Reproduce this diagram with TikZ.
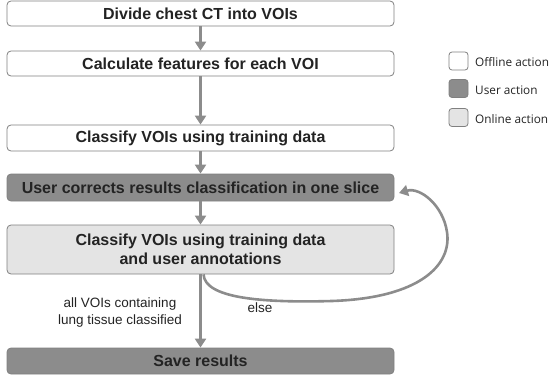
\documentclass[tikz,border=0pt]{standalone}
\usepackage{fontspec}
\setmainfont{Liberation Sans}
\newfontfamily\legendfont{Open Sans}
\usetikzlibrary{arrows.meta}
\definecolor{edgegray}{RGB}{128,128,128}
\definecolor{usergray}{RGB}{140,140,140}
\definecolor{onlinegray}{RGB}{228,228,228}
\definecolor{arrowgray}{RGB}{140,140,140}
\definecolor{textgray}{RGB}{35,35,35}
\tikzset{
  stepbox/.style={draw=edgegray, line width=0.8pt, rounded corners=4pt,
    minimum width=387pt, inner sep=0pt, align=center,
    font=\fontsize{16}{19}\selectfont\bfseries, text=textgray},
  offline/.style={stepbox, fill=white},
  useract/.style={stepbox, fill=usergray},
  online/.style={stepbox, fill=onlinegray},
  flow/.style={draw=arrowgray, line width=2.6pt,
    -{Triangle[width=11pt,length=9pt]}},
  lbl/.style={font=\fontsize{13.5}{17}\selectfont, text=textgray, align=center},
  legbox/.style={draw=edgegray, line width=0.8pt, rounded corners=3pt,
    minimum width=19pt, minimum height=18pt, inner sep=0pt},
  legtext/.style={font=\legendfont\fontsize{11.8}{14}\selectfont, text=textgray, anchor=west, inner sep=0pt}
}
\begin{document}
\begin{tikzpicture}[x=1pt,y=-1pt]
  \useasboundingbox (0,0) rectangle (553,377);

  % process steps
  \node[offline, minimum height=25pt] (b1) at (200.5,13.5) {Divide chest CT into VOIs};
  \node[offline, minimum height=25pt] (b2) at (200.5,63.5) {Calculate features for each VOI};
  \node[offline, minimum height=26pt] (b3) at (200.5,138) {Classify VOIs using training data};
  \node[useract, minimum height=27pt] (b4) at (200.5,187.5) {User corrects results classification in one slice};
  \node[online, minimum height=49pt] (b5) at (200.5,249.5) {Classify VOIs using training data\\and user annotations};
  \node[useract, minimum height=26pt] (b6) at (200.5,361) {Save results};

  % straight flow
  \draw[flow] (b1) -- (b2);
  \draw[flow] (b2) -- (b3);
  \draw[flow] (b3) -- (b4);
  \draw[flow] (b4) -- (b5);
  \draw[flow] (b5) -- (b6);

  % loop back for another correction round
  \coordinate (loopin) at (399,193);
  \draw[flow] ([xshift=3pt]b5.south) .. controls (205,298) and (260,303) .. (332,301)
     .. controls (420,298) and (452,265) .. (447,232)
     .. controls (443,205) and (420,187) .. (loopin);

  % branch labels
  \node[lbl] (lall) at (120,313) {all VOIs containing\\lung tissue classified};
  \node[lbl] (lelse) at (260,308) {else};

  % legend
  \node[legbox, fill=white] (k1) at (458.5,61) {};
  \node[legbox, fill=usergray] (k2) at (458.5,88.5) {};
  \node[legbox, fill=onlinegray] (k3) at (458.5,117.5) {};
  \node[legtext] (t1) at (475,62.5) {Offline action};
  \node[legtext] (t2) at (475,90.5) {User action};
  \node[legtext] (t3) at (475,119.5) {Online action};
\end{tikzpicture}
\end{document}
